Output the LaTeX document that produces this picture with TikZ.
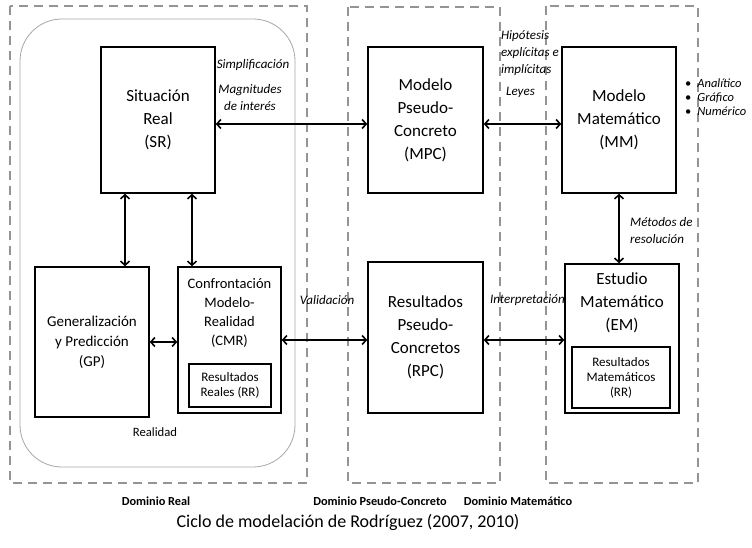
\documentclass[tikz,border=0pt]{standalone}
\usepackage{fontspec}
\setmainfont{Carlito}
\usetikzlibrary{arrows.meta}
\usetikzlibrary{positioning}

\begin{document}
\begin{tikzpicture}[x=1pt,y=-1pt,line width=1.6pt,>={Straight Barb[length=4pt,width=9pt]},
    box/.style={draw,inner sep=0pt,align=center,font=\fontsize{17}{23}\selectfont},
    midtext/.style={align=center,font=\fontsize{14.5}{19}\selectfont},
    smallbox/.style={draw,inner sep=0pt,align=center,font=\fontsize{13}{15}\selectfont},
    lbl/.style={align=left,font=\fontsize{13}{17}\selectfont\itshape},
    dominio/.style={draw=black!42,line width=2pt,dash pattern=on 9pt off 6pt},
    domlbl/.style={font=\fontsize{12.3}{14}\selectfont\bfseries}]
    \useasboundingbox (0,0) rectangle (752,548);

    % dominios
    \draw[dominio] (10,6) rectangle (307,483);
    \draw[dominio] (348,7) rectangle (500,483);
    \draw[dominio] (546,6) rectangle (698,483);
    \draw[black!35,line width=0.8pt,rounded corners=42pt] (20,19) rectangle (295,467);

    % cajas
    \node[box,minimum width=114pt,minimum height=146pt] (sr) at (158,120) {Situación\\Real\\(SR)};
    \node[box,minimum width=115pt,minimum height=146pt] (mpc) at (425.5,120) {Modelo\\Pseudo-\\Concreto\\(MPC)};
    \node[box,minimum width=114pt,minimum height=146pt] (mm) at (619,120) {Modelo\\Matemático\\(MM)};
    \node[box,font=\fontsize{15}{20}\selectfont,minimum width=114pt,minimum height=150pt] (gp) at (92,342) {Generalización\\y Predicción\\(GP)};
    \node[box,minimum width=103pt,minimum height=146pt] (cmr) at (229.5,340) {};
    \node[midtext] (cmrtext) at (229.5,313) {Confrontación\\Modelo-\\Realidad\\(CMR)};
    \node[smallbox,minimum width=82pt,minimum height=43pt] (rr) at (230,385.5) {Resultados\\Reales (RR)};
    \node[box,minimum width=115pt,minimum height=151pt] (rpc) at (425.5,337.5) {Resultados\\Pseudo-\\Concretos\\(RPC)};
    \node[box,minimum width=114pt,minimum height=149pt] (em) at (622,338.5) {};
    \node[box,draw=none] (emtext) at (622,303) {Estudio\\Matemático\\(EM)};
    \node[smallbox,minimum width=98pt,minimum height=61pt] (rm) at (621,377.5) {Resultados\\Matemáticos\\(RR)};

    % flechas
    \draw[<->] ([yshift=-4pt]sr.east) -- ([yshift=-4pt]mpc.west);
    \draw[<->] ([yshift=-4pt]mpc.east) -- ([yshift=-4pt]mm.west);
    \draw[<->] ([xshift=-33pt]sr.south) -- ([xshift=33pt]gp.north);
    \draw[<->] ([xshift=34pt]sr.south) -- ([xshift=-37.5pt]cmr.north);
    \draw[<->] (gp.east) -- (gp.east -| cmr.west);
    \draw[<->] (cmr.east) -- (cmr.east -| rpc.west);
    \draw[<->] ([yshift=-2.5pt]rpc.east) -- ([yshift=-2.5pt]rpc.east -| em.west);
    \draw[<->] (mm.south) -- (mm.south |- em.north);

    % etiquetas
    \node[lbl] (simp) at (253,65) {Simplificación};
    \node[lbl,align=center] (magn) at (250,98) {Magnitudes\\de interés};
    \node[lbl,anchor=west] (hip) at (497,53) {Hipótesis\\explícitas e\\implícitas};
    \node[lbl,anchor=west] (leyes) at (502,92) {Leyes};
    \node[lbl,anchor=west,font=\fontsize{12.5}{14}\selectfont] (tipos) at (681,97)
        {•\hspace{6pt}\textit{Analítico}\\•\hspace{6pt}\textit{Gráfico}\\•\hspace{6pt}\textit{Numérico}};
    \node[lbl,anchor=west] (metodos) at (626,231) {Métodos de\\resolución};
    \node[lbl] (valid) at (327,300) {Validación};
    \node[lbl,anchor=west] (interp) at (486,300) {Interpretación};
    \node[font=\fontsize{12.7}{15}\selectfont] (realidad) at (155,432) {Realidad};

    \node[domlbl] (dreal) at (156,501) {Dominio Real};
    \node[domlbl] (dpseudo) at (380,501) {Dominio Pseudo-Concreto};
    \node[domlbl] (dmat) at (518,501) {Dominio Matemático};
    \node[font=\fontsize{18}{21}\selectfont] (titulo) at (348,522) {Ciclo de modelación de Rodríguez (2007, 2010)};
\end{tikzpicture}
\end{document}
